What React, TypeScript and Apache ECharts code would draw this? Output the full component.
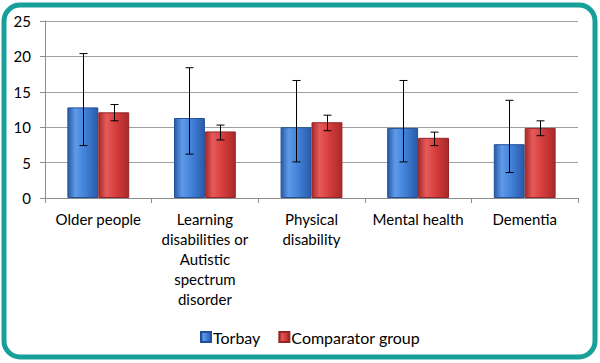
import React, { useEffect, useRef } from "react";
import * as echarts from "echarts";

const categories = [
  "Older people",
  "Learning\ndisabilities or\nAutistic\nspectrum\ndisorder",
  "Physical\ndisability",
  "Mental health",
  "Dementia",
];
const seriesNames = ["Torbay", "Comparator group"];
const torbay = [12.8, 11.3, 10.0, 9.9, 7.6];
const torbayLow = [7.4, 6.2, 5.1, 5.1, 3.6];
const torbayHigh = [20.4, 18.4, 16.6, 16.6, 13.8];
const comparator = [12.1, 9.4, 10.7, 8.5, 9.9];
const comparatorLow = [10.9, 8.2, 9.5, 7.4, 8.8];
const comparatorHigh = [13.2, 10.3, 11.7, 9.3, 10.9];

const FONT = "Lato";

function barGradient(edge: string, mid: string, light: string) {
  return new echarts.graphic.LinearGradient(0, 0, 1, 0, [
    { offset: 0, color: edge },
    { offset: 0.25, color: light },
    { offset: 0.6, color: mid },
    { offset: 1, color: edge },
  ]);
}

function errorSeries(low: number[], high: number[], offsetFrac: number) {
  return {
    type: "custom",
    z: 10,
    silent: true,
    data: low.map((l, i) => [i, l, high[i]]),
    encode: { x: 0, y: [1, 2] },
    renderItem: (params: any, api: any) => {
      const idx = api.value(0);
      const lo = api.coord([idx, api.value(1)]);
      const hi = api.coord([idx, api.value(2)]);
      const catW = api.size([1, 0])[0];
      const x = Math.round(lo[0] + catW * offsetFrac) + 0.5;
      const cap = 4;
      const style = { stroke: "#000", lineWidth: 1 };
      return {
        type: "group",
        children: [
          { type: "line", shape: { x1: x, y1: hi[1], x2: x, y2: lo[1] }, style },
          { type: "line", shape: { x1: x - cap, y1: hi[1], x2: x + cap, y2: hi[1] }, style },
          { type: "line", shape: { x1: x - cap, y1: lo[1], x2: x + cap, y2: lo[1] }, style },
        ],
      };
    },
  };
}

export default function App() {
  const ref = useRef<HTMLDivElement>(null);
  useEffect(() => {
    const chart = echarts.init(ref.current!, null, { renderer: "svg" });
    chart.setOption({
      animation: false,
      backgroundColor: "#ffffff",
      textStyle: { fontFamily: FONT },
      grid: { left: 45, right: 22, top: 21, bottom: 165, containLabel: false },
      legend: {
        left: 195,
        top: 324,
        itemWidth: 10,
        itemHeight: 10,
        itemGap: 18,
        icon: "rect",
        data: seriesNames,
        textStyle: { fontFamily: FONT, fontSize: 16, color: "#000", padding: [0, 0, 0, -3] },
      },
      xAxis: {
        type: "category",
        data: categories,
        axisLine: { lineStyle: { color: "#8c8c8c", width: 1 } },
        axisTick: { show: true, length: 5, lineStyle: { color: "#8c8c8c" } },
        axisLabel: {
          interval: 0,
          margin: 11,
          fontFamily: FONT,
          fontSize: 15,
          color: "#000",
          lineHeight: 20,
        },
      },
      yAxis: {
        type: "value",
        min: 0,
        max: 25,
        interval: 5,
        axisLine: { show: true, lineStyle: { color: "#8c8c8c", width: 1 } },
        axisTick: { show: true, length: 5, lineStyle: { color: "#8c8c8c" } },
        splitLine: { lineStyle: { color: "#a0a0a0", width: 1 } },
        axisLabel: { margin: 14, fontFamily: FONT, fontSize: 15, color: "#000" },
      },
      series: [
        {
          name: seriesNames[0],
          type: "bar",
          data: torbay,
          barGap: "0%",
          barCategoryGap: "42%",
          itemStyle: {
            color: barGradient("#2a5aa8", "#3f7fd6", "#5d9be8"),
            borderColor: "#234f96",
            borderWidth: 1,
          },
        },
        {
          name: seriesNames[1],
          type: "bar",
          data: comparator,
          barGap: "0%",
          barCategoryGap: "42%",
          itemStyle: {
            color: barGradient("#a82a2a", "#d43b3b", "#e65a5a"),
            borderColor: "#962424",
            borderWidth: 1,
          },
        },
        errorSeries(torbayLow, torbayHigh, -0.145),
        errorSeries(comparatorLow, comparatorHigh, 0.145),
      ],
      graphic: [
        {
          type: "rect",
          shape: { x: 4, y: 5, width: 591, height: 352, r: 16 },
          style: { fill: "none", stroke: "#17a09a", lineWidth: 5 },
          z: 100,
        },
      ],
    });
    return () => chart.dispose();
  }, []);
  return (
    <div
      ref={ref}
      style={{ position: "fixed", left: 0, top: 0, width: 600, height: 363 }}
    />
  );
}
